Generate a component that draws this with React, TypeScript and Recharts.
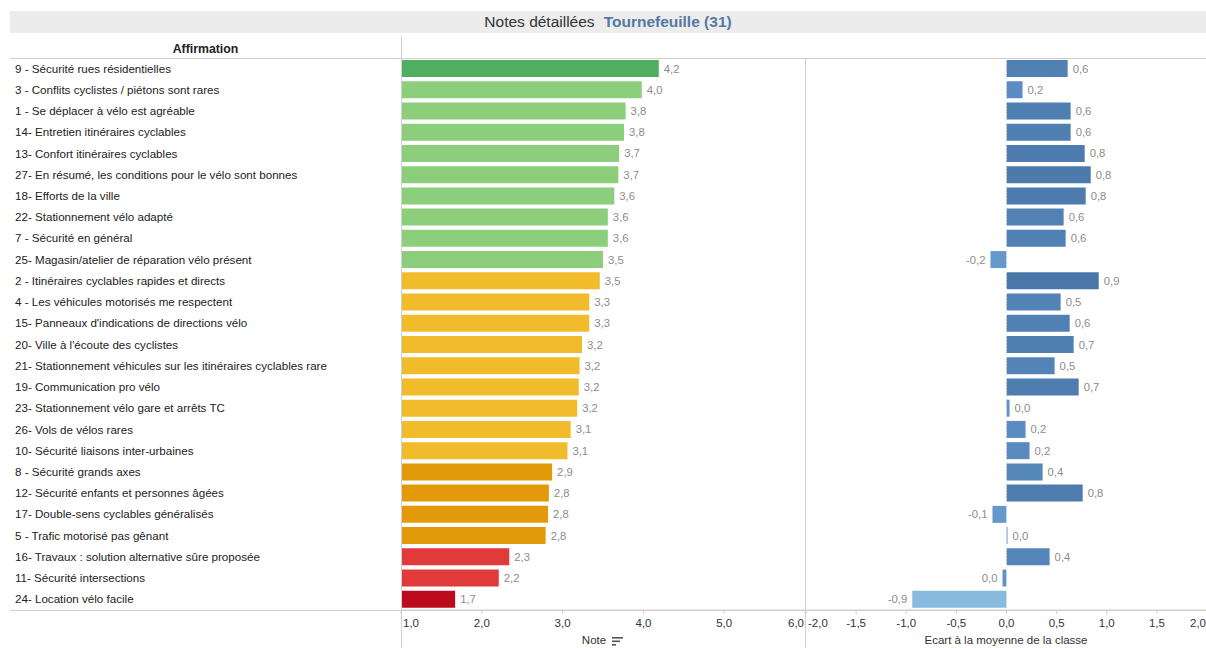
import React from 'react';
import { BarChart, Bar, XAxis, YAxis, Cell, LabelList, ReferenceLine } from 'recharts';

const categories = [
  '9 - Sécurité rues résidentielles',
  '3 - Conflits cyclistes / piétons sont rares',
  '1 - Se déplacer à vélo est agréable',
  '14- Entretien itinéraires cyclables',
  '13- Confort itinéraires cyclables',
  '27- En résumé, les conditions pour le vélo sont bonnes',
  '18- Efforts de la ville',
  '22- Stationnement vélo adapté',
  '7 - Sécurité en général',
  '25- Magasin/atelier de réparation vélo présent',
  '2 - Itinéraires cyclables rapides et directs',
  '4 - Les véhicules motorisés me respectent',
  "15- Panneaux d'indications de directions vélo",
  "20- Ville à l'écoute des cyclistes",
  '21- Stationnement véhicules sur les itinéraires cyclables rare',
  '19- Communication pro vélo',
  '23- Stationnement vélo gare et arrêts TC',
  '26- Vols de vélos rares',
  '10- Sécurité liaisons inter-urbaines',
  '8 - Sécurité grands axes',
  '12- Sécurité enfants et personnes âgées',
  '17- Double-sens cyclables généralisés',
  '5 - Trafic motorisé pas gênant',
  '16- Travaux : solution alternative sûre proposée',
  '11- Sécurité intersections',
  '24- Location vélo facile',
];

const notes = [
  4.19, 3.98, 3.78, 3.76, 3.70, 3.69, 3.64, 3.56, 3.56, 3.50, 3.46, 3.33, 3.33,
  3.24, 3.21, 3.20, 3.18, 3.10, 3.06, 2.87, 2.83, 2.82, 2.79, 2.34, 2.21, 1.67,
];

const ecarts = [
  0.61, 0.16, 0.64, 0.64, 0.78, 0.84, 0.79, 0.57, 0.59, -0.16, 0.92, 0.54, 0.63,
  0.67, 0.48, 0.72, 0.03, 0.19, 0.23, 0.36, 0.76, -0.14, 0.01, 0.43, -0.04, -0.94,
];

const noteTicks = [1, 2, 3, 4, 5, 6];
const ecartTicks = [-2, -1.5, -1, -0.5, 0, 0.5, 1, 1.5, 2];

const rows = categories.map((label, i) => ({ label, note: notes[i], ecart: ecarts[i] }));

const fmt = (v: any) => {
  let r = Math.round(Number(v) * 10) / 10;
  if (r === 0) r = 0;
  return r.toFixed(1).replace('.', ',');
};

const noteColor = (v: number) => {
  if (v >= 4.1) return '#4fae5f';
  if (v >= 3.5) return '#8dce7d';
  if (v >= 3.0) return '#f0bc2b';
  if (v >= 2.5) return '#e29a0a';
  if (v >= 2.0) return '#e03a3a';
  return '#bc0b1d';
};

const lerp = (a: number[], b: number[], t: number) =>
  `rgb(${a.map((x, i) => Math.round(x + (b[i] - x) * t)).join(',')})`;
const ecartColor = (v: number) => {
  const light = [139, 187, 224];
  const mid = [95, 146, 199];
  const dark = [72, 117, 166];
  const c = Math.max(-1, Math.min(1, v));
  return c < 0 ? lerp(mid, light, -c) : lerp(mid, dark, c);
};

const FONT = '"Liberation Sans", Arial, sans-serif';
const LINE = '#cfcfcf';

const makeTick = (ticks: number[]) => (props: any) => {
  const { x, y, payload } = props;
  const v = payload.value;
  const min = Math.min(...ticks);
  const max = Math.max(...ticks);
  const anchor = v === min ? 'start' : v === max ? 'end' : 'middle';
  const dx = v === min ? 2 : v === max ? -1 : 0;
  return (
    <text x={x + dx} y={y} dy="0.71em" textAnchor={anchor} fontSize={11.5} fill="#333">
      {fmt(v)}
    </text>
  );
};

const CategoryTick = (props: any) => {
  const { y, payload } = props;
  return (
    <text x={15} y={y} dy={4} textAnchor="start" fontSize={11.6} fill="#222">
      {payload.value}
    </text>
  );
};

const hLine = (x: number, y: number, w: number) => (
  <div style={{ position: 'absolute', left: x, top: y, width: w, height: 1, background: LINE }} />
);
const vLine = (x: number, y: number, h: number) => (
  <div style={{ position: 'absolute', left: x, top: y, width: 1, height: h, background: LINE }} />
);

export default function App() {
  return (
    <div
      style={{
        position: 'fixed',
        left: 0,
        top: 0,
        width: 1206,
        height: 648,
        overflow: 'hidden',
        background: '#fff',
        fontFamily: FONT,
      }}
    >
      <div
        style={{
          position: 'absolute',
          left: 10,
          top: 11,
          width: 1196,
          height: 22,
          background: '#ececec',
          display: 'flex',
          alignItems: 'center',
          justifyContent: 'center',
          fontSize: 15.5,
          color: '#333',
        }}
      >
        <span>Notes détaillées</span>
        <span style={{ marginLeft: 9, color: '#5479a3', fontWeight: 'bold' }}>Tournefeuille (31)</span>
      </div>
      <div
        style={{
          position: 'absolute',
          left: 10,
          top: 42,
          width: 391,
          textAlign: 'center',
          fontSize: 12.3,
          fontWeight: 'bold',
          color: '#222',
        }}
      >
        Affirmation
      </div>

      <div style={{ position: 'absolute', left: 0, top: 0 }}>
        <BarChart
          width={805}
          height={648}
          data={rows}
          layout="vertical"
          margin={{ top: 58, right: 0, bottom: 0, left: 0 }}
          barSize={17}
        >
          <XAxis
            type="number"
            dataKey="note"
            domain={[1, 6]}
            ticks={noteTicks}
            height={38}
            axisLine={{ stroke: LINE }}
            tickLine={{ stroke: LINE }}
            tickSize={4}
            tickMargin={5}
            tick={makeTick(noteTicks)}
            interval={0}
          />
          <YAxis
            type="category"
            dataKey="label"
            width={401}
            axisLine={false}
            tickLine={false}
            tick={<CategoryTick />}
            interval={0}
          />
          <Bar dataKey="note" isAnimationActive={false}>
            {rows.map((r, i) => (
              <Cell key={i} fill={noteColor(r.note)} />
            ))}
            <LabelList dataKey="note" position="right" offset={5} formatter={fmt} fill="#8c8c8c" fontSize={11.3} />
          </Bar>
        </BarChart>
      </div>

      <div style={{ position: 'absolute', left: 806, top: 0 }}>
        <BarChart
          width={401}
          height={648}
          data={rows}
          layout="vertical"
          margin={{ top: 58, right: 0, bottom: 0, left: 0 }}
          barSize={17}
        >
          <XAxis
            type="number"
            dataKey="ecart"
            domain={[-2, 2]}
            ticks={ecartTicks}
            height={38}
            axisLine={{ stroke: LINE }}
            tickLine={{ stroke: LINE }}
            tickSize={4}
            tickMargin={5}
            tick={makeTick(ecartTicks)}
            interval={0}
          />
          <YAxis type="category" dataKey="label" hide />
          <Bar dataKey="ecart" isAnimationActive={false}>
            {rows.map((r, i) => (
              <Cell key={i} fill={ecartColor(r.ecart)} />
            ))}
            <LabelList dataKey="ecart" position="right" offset={5} formatter={fmt} fill="#8c8c8c" fontSize={11.3} />
          </Bar>
          <ReferenceLine x={0} stroke="#e6e6e6" strokeDasharray="1 2" />
        </BarChart>
      </div>

      {hLine(10, 58, 1196)}
      {hLine(10, 610, 1196)}
      {vLine(401, 36, 612)}
      {vLine(805, 58, 590)}

      <div
        style={{
          position: 'absolute',
          left: 401,
          width: 404,
          top: 634,
          textAlign: 'center',
          fontSize: 11.5,
          color: '#333',
        }}
      >
        <span>Note</span>
        <svg width={12} height={10} style={{ marginLeft: 6, verticalAlign: 'middle' }}>
          <rect x={0} y={1} width={11} height={1.6} fill="#555" />
          <rect x={0} y={4.5} width={8} height={1.6} fill="#555" />
          <rect x={0} y={8} width={4} height={1.6} fill="#555" />
        </svg>
      </div>
      <div
        style={{
          position: 'absolute',
          left: 806,
          width: 400,
          top: 634,
          textAlign: 'center',
          fontSize: 11.5,
          color: '#333',
        }}
      >
        Ecart à la moyenne de la classe
      </div>
    </div>
  );
}
